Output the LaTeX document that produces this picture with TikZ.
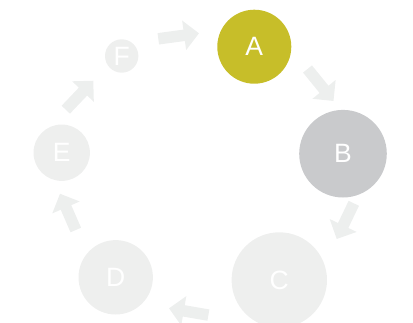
\documentclass[tikz,border=0pt]{standalone}
\usepackage{fontspec}
\setmainfont{Liberation Sans}
\usetikzlibrary{arrows.meta}
\definecolor{acol}{RGB}{199,190,41}
\definecolor{bcol}{RGB}{201,202,204}
\definecolor{lcol}{RGB}{238,239,238}
\definecolor{arrowgray}{RGB}{237,239,238}
\begin{document}
\begin{tikzpicture}[x=1pt,y=-1pt,
  stage/.style={circle, inner sep=0pt, text=white, font=\fontsize{26.5}{30}\selectfont},
  flow/.style={draw=arrowgray, line width=11.5pt, -{Triangle[width=29pt 0,length=15pt 0]}}]
\useasboundingbox (0,0) rectangle (413,322);
\clip (0,0) rectangle (413,322);
\node[stage, fill=acol, minimum size=74pt] (A) at (254.3,46.7) {A};
\node[stage, fill=bcol, minimum size=87.6pt] (B) at (343,153.7) {B};
\node[stage, fill=lcol, minimum size=95.4pt] (C) at (279.3,280) {C};
\node[stage, fill=lcol, minimum size=74.4pt] (D) at (115.7,277.3) {D};
\node[stage, fill=lcol, minimum size=56.4pt] (E) at (61.7,152.7) {E};
\node[stage, fill=lcol, minimum size=33.4pt] (F) at (121.7,56) {F};
\coordinate (fa1) at (158.3,38.8); \coordinate (fa2) at (199,33.3);
\coordinate (ab1) at (307.5,69);   \coordinate (ab2) at (333.5,101);
\coordinate (bc1) at (353.8,203.3);\coordinate (bc2) at (336.7,239);
\coordinate (cd1) at (208.4,315.1);\coordinate (cd2) at (169,308.3);
\coordinate (de1) at (75.8,230);   \coordinate (de2) at (60,193.7);
\coordinate (ef1) at (65.8,109.7); \coordinate (ef2) at (93.3,80.7);
\draw[flow] (fa1) -- (fa2);
\draw[flow] (ab1) -- (ab2);
\draw[flow] (bc1) -- (bc2);
\draw[flow] (cd1) -- (cd2);
\draw[flow] (de1) -- (de2);
\draw[flow] (ef1) -- (ef2);
\end{tikzpicture}
\end{document}
